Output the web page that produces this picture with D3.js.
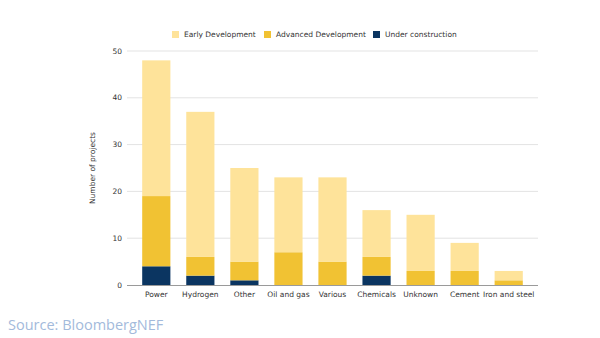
<!DOCTYPE html>
<html>
<head>
<meta charset="utf-8">
<script src="https://cdn.jsdelivr.net/npm/d3@7"></script>
<style>
  body { margin: 0; background: #fff; }
  svg { display: block; }
</style>
</head>
<body>
<div id="chart"></div>
<script>
const sectors = ["Power", "Hydrogen", "Other", "Oil and gas", "Various", "Chemicals", "Unknown", "Cement", "Iron and steel"];
const underConstruction = [4, 2, 1, 0, 0, 2, 0, 0, 0];
const advancedDev = [15, 4, 4, 7, 5, 4, 3, 3, 1];
const earlyDev = [29, 31, 20, 16, 18, 10, 12, 6, 2];
const yTicks = [0, 10, 20, 30, 40, 50];

const stages = ["Under construction", "Advanced Development", "Early Development"];
const stageValues = [underConstruction, advancedDev, earlyDev];
const colors = {
    "Early Development": "#fee39a",
    "Advanced Development": "#f1c233",
    "Under construction": "#0b3561"
};

const width = 600, height = 338;
const margin = { left: 127, right: 62, top: 51, bottom: 53 };

const svg = d3.select("#chart").append("svg")
    .attr("width", width)
    .attr("height", height);

const x = d3.scaleBand()
    .domain(sectors)
    .range([margin.left, width - margin.right])
    .paddingInner(0.36)
    .paddingOuter(0.345);

const y = d3.scaleLinear()
    .domain([0, 50])
    .range([height - margin.bottom, margin.top]);

// gridlines
svg.append("g")
    .selectAll("line")
    .data(yTicks.filter(t => t > 0))
    .join("line")
    .attr("x1", margin.left)
    .attr("x2", width - margin.right)
    .attr("y1", d => y(d))
    .attr("y2", d => y(d))
    .attr("stroke", "#e3e3e3")
    .attr("stroke-width", 1);

// stack the three stages
const rows = sectors.map((s, i) => {
    const r = { sector: s };
    stages.forEach((st, k) => r[st] = stageValues[k][i]);
    return r;
});
const series = d3.stack().keys(stages)(rows);

svg.append("g")
    .selectAll("g")
    .data(series)
    .join("g")
    .attr("fill", d => colors[d.key])
    .selectAll("rect")
    .data(d => d)
    .join("rect")
    .attr("x", d => x(d.data.sector))
    .attr("width", x.bandwidth())
    .attr("y", d => y(d[1]))
    .attr("height", d => y(d[0]) - y(d[1]));

// baseline
svg.append("line")
    .attr("x1", margin.left)
    .attr("x2", width - margin.right)
    .attr("y1", y(0) + 0.5)
    .attr("y2", y(0) + 0.5)
    .attr("stroke", "#9a9a9a");

const font = "DejaVu Sans, Verdana, sans-serif";

// y tick labels
svg.append("g")
    .selectAll("text")
    .data(yTicks)
    .join("text")
    .attr("x", margin.left - 5)
    .attr("y", d => y(d))
    .attr("dy", "0.35em")
    .attr("text-anchor", "end")
    .attr("font-family", font)
    .attr("font-size", 7.5)
    .attr("fill", "#333")
    .text(d => d);

// x tick labels
svg.append("g")
    .selectAll("text")
    .data(sectors)
    .join("text")
    .attr("x", d => x(d) + x.bandwidth() / 2)
    .attr("y", y(0) + 12)
    .attr("text-anchor", "middle")
    .attr("font-family", font)
    .attr("font-size", 7.5)
    .attr("fill", "#333")
    .text(d => d);

// axis title
svg.append("text")
    .attr("transform", `translate(95,${(y(0) + y(50)) / 2}) rotate(-90)`)
    .attr("text-anchor", "middle")
    .attr("font-family", font)
    .attr("font-size", 7.5)
    .attr("fill", "#333")
    .text("Number of projects");

// legend
const legendItems = [
    { key: "Early Development", x: 172 },
    { key: "Advanced Development", x: 264 },
    { key: "Under construction", x: 373 }
];
const legend = svg.append("g")
    .selectAll("g")
    .data(legendItems)
    .join("g")
    .attr("transform", d => `translate(${d.x},31)`);
legend.append("rect")
    .attr("width", 7)
    .attr("height", 7)
    .attr("fill", d => colors[d.key]);
legend.append("text")
    .attr("x", 12)
    .attr("y", 3.5)
    .attr("dy", "0.35em")
    .attr("font-family", font)
    .attr("font-size", 7.5)
    .attr("fill", "#333")
    .text(d => d.key);

// source note
svg.append("text")
    .attr("x", 8)
    .attr("y", 330)
    .attr("font-family", "Open Sans, sans-serif")
    .attr("font-size", 14.5)
    .attr("fill", "#a3badb")
    .text("Source: BloombergNEF");
</script>
</body>
</html>
